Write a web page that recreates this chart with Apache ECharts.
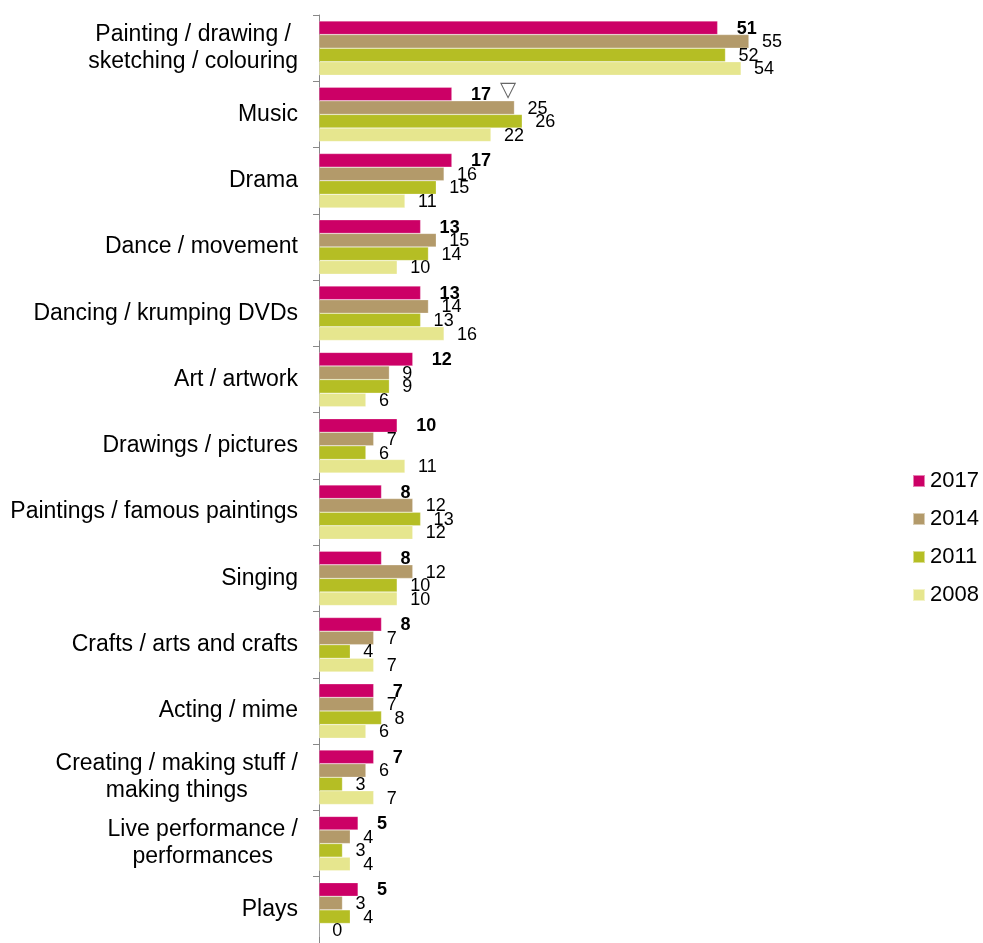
<!DOCTYPE html>
<html>
<head>
<meta charset="utf-8">
<script src="https://cdn.jsdelivr.net/npm/echarts@6/dist/echarts.min.js"></script>
<style>
  html, body { margin: 0; padding: 0; background: #fff; }
  #chart { width: 983px; height: 943px; }
</style>
</head>
<body>
<div id="chart"></div>
<script>
// categories, top to bottom
var categories = [
  'Painting / drawing /\nsketching / colouring',
  'Music',
  'Drama',
  'Dance / movement',
  'Dancing / krumping DVDs',
  'Art / artwork',
  'Drawings / pictures',
  'Paintings / famous paintings',
  'Singing',
  'Crafts / arts and crafts',
  'Acting / mime',
  'Creating / making stuff /\nmaking things',
  'Live performance /\nperformances',
  'Plays'
];

var years = ['2017', '2014', '2011', '2008'];
var colors = ['#cc0066', '#b39a6a', '#b5be24', '#e6e68e'];

var v2017 = [51, 17, 17, 13, 13, 12, 10, 8, 8, 8, 7, 7, 5, 5];
var v2014 = [55, 25, 16, 15, 14, 9, 7, 12, 12, 7, 7, 6, 4, 3];
var v2011 = [52, 26, 15, 14, 13, 9, 6, 13, 10, 4, 8, 3, 3, 4];
var v2008 = [54, 22, 11, 10, 16, 6, 11, 12, 10, 7, 6, 7, 4, 0];

// Music 2017 carries the "significant change" marker
var markedIndex = 1;

var font = 'Liberation Sans, Arial, sans-serif';
var myChart = echarts.init(document.getElementById('chart'));

function makeSeries(name, data, color, bold) {
  return {
    name: name,
    type: 'bar',
    data: data,
    barGap: '0%',
    barCategoryGap: '18%',
    itemStyle: { color: color, borderColor: 'rgba(255,255,255,0.5)', borderWidth: 0.5 },
    label: {
      show: true,
      position: 'right',
      distance: bold ? 19 : 13,
      offset: [0, 1],
      color: '#000',
      fontFamily: font,
      fontSize: 18,
      fontWeight: bold ? 'bold' : 'normal',
      formatter: function (p) {
        if (bold && p.dataIndex === markedIndex) {
          return '{v|' + p.value + '}{t|▽}';
        }
        return p.value;
      },
      rich: {
        v: { fontFamily: font, fontSize: 18, fontWeight: 'bold', color: '#000' },
        t: { fontFamily: 'DejaVu Sans, sans-serif', fontSize: 21, color: '#666', padding: [0, 0, 9, 9] }
      }
    }
  };
}

myChart.setOption({
  animation: false,
  textStyle: { fontFamily: font },
  grid: { left: 319, top: 15, width: 469, height: 935 },
  legend: {
    orient: 'vertical',
    left: 912,
    top: 470,
    itemWidth: 12,
    itemHeight: 12,
    itemGap: 16,
    padding: 0,
    icon: 'rect',
    data: years,
    textStyle: { fontFamily: font, fontSize: 22, color: '#000', lineHeight: 22 }
  },
  xAxis: { type: 'value', min: 0, max: 60, show: false },
  yAxis: {
    type: 'category',
    inverse: true,
    data: categories,
    axisLine: { show: true, lineStyle: { color: '#888', width: 1 } },
    axisTick: { show: true, alignWithLabel: false, length: 6, lineStyle: { color: '#888', width: 1 } },
    axisLabel: {
      margin: 21,
      color: '#000',
      fontFamily: font,
      fontSize: 23,
      lineHeight: 27,
      formatter: function (v) {
        return v.split('\n').map(function (s) { return '{c|' + s + '}'; }).join('\n');
      },
      rich: { c: { align: 'center', fontFamily: font, fontSize: 23, lineHeight: 27, color: '#000' } }
    }
  },
  series: [
    makeSeries(years[0], v2017, colors[0], true),
    makeSeries(years[1], v2014, colors[1], false),
    makeSeries(years[2], v2011, colors[2], false),
    makeSeries(years[3], v2008, colors[3], false)
  ]
});
</script>
</body>
</html>
